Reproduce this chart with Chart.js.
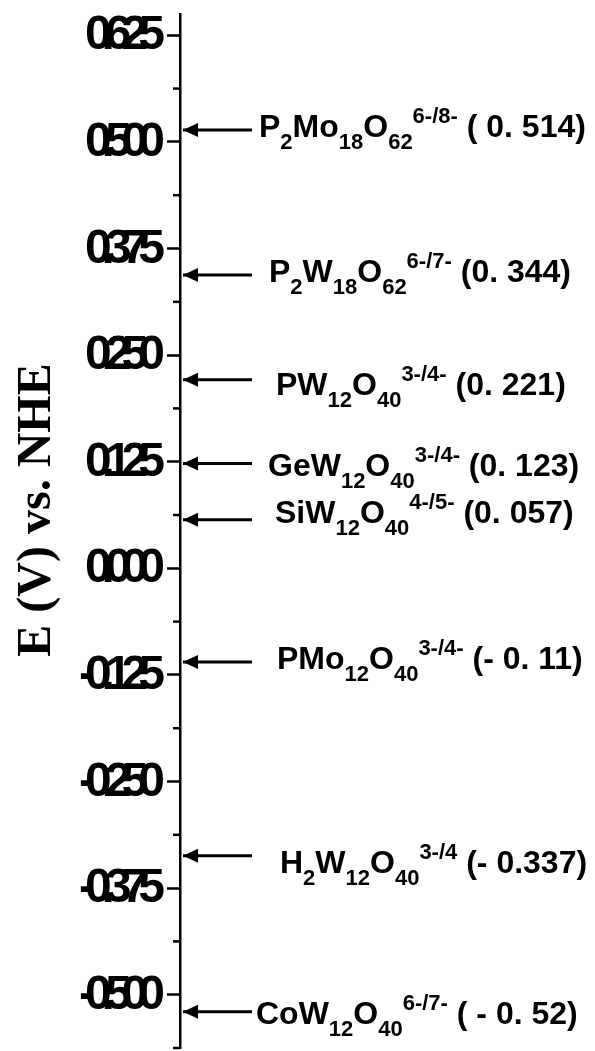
<!DOCTYPE html>
<html>
<head>
<meta charset="utf-8">
<title>Redox potentials</title>
<script src="https://cdn.jsdelivr.net/npm/chart.js@4.4.0/dist/chart.umd.min.js"></script>
<style>
  html, body { margin: 0; padding: 0; background: #fff; }
  #wrap { position: relative; width: 595px; height: 1051px; }
</style>
</head>
<body>
<div id="wrap"><canvas id="potChart"></canvas></div>
<script>
// ===== Data =====
// _{..} is a subscript, ^{..} a superscript
const species = [
  'P_{2}Mo_{18}O_{62}^{6-/8-} ( 0. 514)',
  'P_{2}W_{18}O_{62}^{6-/7-} (0. 344)',
  'PW_{12}O_{40}^{3-/4-} (0. 221)',
  'GeW_{12}O_{40}^{3-/4-} (0. 123)',
  'SiW_{12}O_{40}^{4-/5-} (0. 057)',
  'PMo_{12}O_{40}^{3-/4-} (- 0. 11)',
  'H_{2}W_{12}O_{40}^{3-/4} (- 0.337)',
  'CoW_{12}O_{40}^{6-/7-} ( - 0. 52)'
];
const potentials = [0.514, 0.344, 0.221, 0.123, 0.057, -0.11, -0.337, -0.52];

const majorTicks = [0.625, 0.5, 0.375, 0.25, 0.125, 0, -0.125, -0.25, -0.375, -0.5];
const tickLabels = ['0.625', '0.500', '0.375', '0.250', '0.125', '0.000', '-0.125', '-0.250', '-0.375', '-0.500'];
const minorTicks = [0.5625, 0.4375, 0.3125, 0.1875, 0.0625, -0.0625, -0.1875, -0.3125, -0.4375, -0.5625];
const yMin = -0.5625, yMax = 0.65;
const axisTitle = 'E (V) vs. NHE';

// ===== Layout =====
const AXIS_X = 180;
const arrowTip = 3 / 415, arrowTail = 72 / 415;        // x scale runs 0..1 over the plot
const labelLeft = [259, 269, 276, 268, 275, 277, 280, 256];
const labelShift = [-4, -4, 4, 1, -8, -5, 6, 1];       // text centre relative to its arrow
const SANS = '"Liberation Sans", Arial, sans-serif';
const MAIN = 32, SMALL = 22;

function drawRich(ctx, str, x, yMid) {
  const parts = str.match(/_\{[^}]*\}|\^\{[^}]*\}|[^_^]+/g);
  const base = yMid + 0.716 * MAIN / 2;
  parts.forEach(p => {
    let size = MAIN, dy = 0, t = p;
    if (p[0] === '_') { size = SMALL; dy = 12; t = p.slice(2, -1); }
    else if (p[0] === '^') { size = SMALL; dy = -14; t = p.slice(2, -1); }
    ctx.font = `bold ${size}px ${SANS}`;
    ctx.fillText(t, x, base + dy);
    x += ctx.measureText(t).width;
  });
}

// arrowheads, minor ticks, tick labels, species labels and axis title
const annotate = {
  id: 'annotate',
  afterDraw(chart) {
    const { ctx, chartArea, scales: { y } } = chart;
    const x0 = chartArea.left;
    ctx.save();
    ctx.fillStyle = '#000';
    ctx.strokeStyle = '#000';

    ctx.lineWidth = 2.5;
    minorTicks.forEach(v => {
      const py = y.getPixelForValue(v);
      ctx.beginPath();
      ctx.moveTo(x0 - 7, py);
      ctx.lineTo(x0, py);
      ctx.stroke();
    });

    // squeezed bold numbers on the axis
    ctx.font = `bold 48px ${SANS}`;
    ctx.letterSpacing = '-10px';
    ctx.textAlign = 'left';
    ctx.textBaseline = 'alphabetic';
    majorTicks.forEach((v, i) => {
      const w = ctx.measureText(tickLabels[i]).width;
      ctx.fillText(tickLabels[i], x0 - 15 - w - 10, y.getPixelForValue(v) + 14);
    });
    ctx.letterSpacing = '0px';

    chart.data.datasets.forEach((ds, i) => {
      const tip = chart.getDatasetMeta(i).data[0];
      ctx.beginPath();
      ctx.moveTo(tip.x, tip.y);
      ctx.lineTo(tip.x + 15, tip.y - 7);
      ctx.lineTo(tip.x + 15, tip.y + 7);
      ctx.closePath();
      ctx.fill();
      drawRich(ctx, species[i], labelLeft[i], tip.y + labelShift[i]);
    });

    ctx.translate(50, 510);
    ctx.rotate(-Math.PI / 2);
    ctx.textAlign = 'center';
    ctx.font = 'bold 48px "Liberation Serif", "Times New Roman", serif';
    ctx.fillText(axisTitle, 0, 0);
    ctx.restore();
  }
};

new Chart(document.getElementById('potChart'), {
  type: 'line',
  data: {
    datasets: potentials.map(v => ({
      data: [{ x: arrowTip, y: v }, { x: arrowTail, y: v }],
      borderColor: '#000',
      borderWidth: 3,
      pointRadius: 0
    }))
  },
  options: {
    responsive: true,
    maintainAspectRatio: false,
    animation: false,
    layout: { padding: { top: 14, bottom: 3, left: 0, right: 0 } },
    plugins: { legend: { display: false }, tooltip: { enabled: false } },
    scales: {
      x: { type: 'linear', display: false, min: 0, max: 1 },
      y: {
        type: 'linear',
        min: yMin,
        max: yMax,
        afterFit(s) { s.width = AXIS_X; },
        afterBuildTicks(s) { s.ticks = majorTicks.map(v => ({ value: v })); },
        ticks: { display: false },
        grid: { drawOnChartArea: false, drawTicks: true, tickLength: 13, tickWidth: 2.5, tickColor: '#000' },
        border: { display: true, width: 2.5, color: '#000' }
      }
    }
  },
  plugins: [annotate]
});
</script>
</body>
</html>
